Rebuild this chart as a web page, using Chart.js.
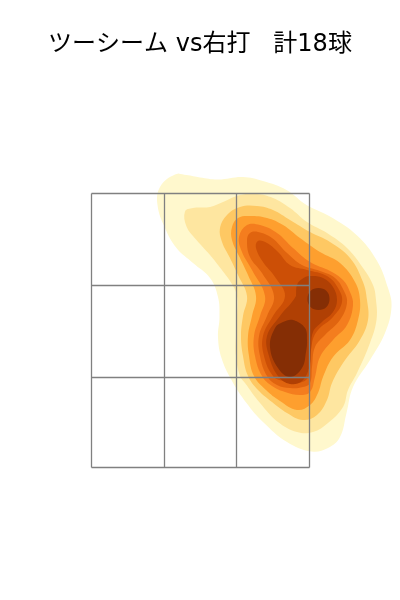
<!DOCTYPE html>
<html>
<head>
<meta charset="utf-8">
<style>
body { margin: 0; background: #fff; }
</style>
<script src="https://cdn.jsdelivr.net/npm/chart.js@4"></script>
</head>
<body>
<canvas id="myChart" width="400" height="600"></canvas>
<script>
var titulo = "ツーシーム vs右打   計18球";

// zone lines, in zone units (0,0 = low corner of the zone)
var zonaX = [0, 73, 145, 218];
var zonaY = [0, 90, 182, 274];

// density bands from the picture, lowest level first
var colores = ["#fff8cd", "#fee6a0", "#fec863", "#fe9f2e", "#f47d1e", "#e0640f", "#cc4f06", "#b04004", "#852e05"];

var nivel1 = [[83.5,293],[68.5,280.5],[66,262.5],[73.5,239.5],[85,219.5],[101.5,204.5],[118.5,189.5],[126.5,170.5],[128,150.5],[126.5,130.5],[130,109.5],[140,87.5],[155,64.5],[171.5,45.5],[195.5,25.5],[220,16],[236.5,19.5],[248.5,30.5],[255,54.5],[261.5,80.5],[278.5,107.5],[293.5,134.5],[300,160.5],[296.5,179.5],[285,207.5],[265,232.5],[238.5,251],[215,262.5],[195,277.5],[171.5,286.5],[151.5,290.5],[126.5,288],[108.5,290],[95,292.5]];
var nivel2 = [[93.5,256],[95,241],[105,227.5],[118.5,212.5],[131.5,196],[141,182.5],[145.5,171.5],[145.5,151.5],[144.5,131.5],[144.5,111.5],[148.5,91.5],[153.5,84.5],[168.5,64.5],[186.5,45.5],[205.5,35.5],[221.5,35.5],[236.5,44.5],[251.5,60.5],[256.5,77.5],[265.5,94.5],[278.5,124.5],[285,147.5],[284.5,167.5],[281.5,182.5],[271.5,199.5],[255.5,219.5],[235.5,234.5],[215.5,245.5],[198.5,259.5],[181.5,269.5],[165.5,273.5],[148.5,272.5],[131.5,265.5],[118.5,260.5],[101.5,259.5]];
var nivel3 = [[128.5,239.5],[130.5,225.5],[138.5,209.5],[146.5,192.5],[155.5,171.5],[151.5,151.5],[149.5,131.5],[151.5,111.5],[156.5,91.5],[166.5,77.5],[180.5,65.5],[195.5,54.5],[211.5,47.5],[225.5,52.5],[235.5,67.5],[240.5,84.5],[251.5,104.5],[268.5,127.5],[276.5,147.5],[275.5,167.5],[271.5,185.5],[258.5,209.5],[238.5,225.5],[218.5,235.5],[198.5,247.5],[181.5,257.5],[165.5,261.5],[148.5,260.5],[135.5,252.5]];
var nivel4 = [[140.5,240.5],[140.5,227.5],[148.5,209.5],[156.5,192.5],[164.5,171.5],[160.5,151.5],[156.5,131.5],[157.5,111.5],[162.5,91.5],[174.5,77.5],[188.5,66.5],[205.5,57.5],[218.5,62.5],[226.5,74.5],[231.5,90.5],[241.5,110.5],[258.5,127.5],[266.5,147.5],[268.5,167.5],[263.5,185.5],[248.5,204.5],[228.5,215.5],[208.5,229.5],[191.5,242.5],[175.5,249.5],[158.5,251.5],[146.5,249.5]];
var nivel5 = [[147.5,230.5],[150.5,215.5],[160.5,197.5],[173.5,171.5],[168.5,151.5],[162.5,131.5],[163.5,111.5],[170.5,91.5],[180.5,81.5],[193.5,75.5],[208.5,72.5],[218.5,75.5],[223.5,90.5],[228.5,110.5],[241.5,127.5],[255.5,142.5],[261.5,162.5],[258.5,175.5],[251.5,187.5],[238.5,196.5],[218.5,205.5],[201.5,219.5],[185.5,234.5],[168.5,242.5],[155.5,242.5]];
var nivel6 = [[155.5,227.5],[158.5,210.5],[170.5,194.5],[182.5,171.5],[175.5,151.5],[167.5,131.5],[168.5,111.5],[175.5,91.5],[185.5,82.5],[198.5,79.5],[211.5,80.5],[218.5,84.5],[220.5,100.5],[223.5,120.5],[233.5,132.5],[248.5,147.5],[255.5,164.5],[252.5,176.5],[243.5,189.5],[228.5,196.5],[210.5,202.5],[195.5,214.5],[180.5,229.5],[166.5,235.5],[158.5,234.5]];
var nivel7 = [[164.5,219.5],[171.5,205.5],[183.5,190.5],[193.5,171.5],[181.5,151.5],[171.5,131.5],[172.5,111.5],[181.5,91.5],[191.5,86.5],[204.5,84.5],[215.5,88.5],[218.5,100.5],[220.5,124.5],[226.5,137.5],[241.5,150.5],[250.5,165.5],[246.5,179.5],[235.5,191.5],[215.5,197.5],[198.5,202.5],[186.5,215.5],[175.5,224.5],[166.5,226.5]];
var nivel8 = [[205.5,182.5],[204.5,171.5],[188.5,151.5],[175.5,131.5],[177.5,111.5],[186.5,91.5],[198.5,83.5],[210.5,86.5],[217.5,99.5],[219.5,117.5],[221.5,135.5],[230.5,145.5],[241.5,155.5],[245.5,167.5],[241.5,180.5],[231.5,189.5],[218.5,191.5],[210.5,188.5]];
var nivel9a = [[201.5,147.5],[213.5,139.5],[215.5,127.5],[214.5,115.5],[210.5,99.5],[198.5,90.5],[186.5,99.5],[178.5,120.5],[183.5,139.5],[191.5,145.5]];
var nivel9b = [[227,179.5],[235,176.5],[238,168.5],[235,160.5],[227,157.5],[219,160.5],[216,168.5],[219,176.5]];

var bandas = [nivel1, nivel2, nivel3, nivel4, nivel5, nivel6, nivel7, nivel8, nivel9a, nivel9b];
var colorBanda = [colores[0], colores[1], colores[2], colores[3], colores[4], colores[5], colores[6], colores[7], colores[8], colores[8]];

function crearGrafico(){
    var datasets = [];

    // the grid goes on top, so lowest order
    zonaX.forEach(function(x){
        datasets.push({
            data: [{x: x, y: zonaY[0]}, {x: x, y: zonaY[3]}],
            showLine: true, pointRadius: 0, borderColor: "#808080", borderWidth: 1.3, order: 0
        });
    });
    zonaY.forEach(function(y){
        datasets.push({
            data: [{x: zonaX[0], y: y}, {x: zonaX[3], y: y}],
            showLine: true, pointRadius: 0, borderColor: "#808080", borderWidth: 1.3, order: 0
        });
    });

    bandas.forEach(function(banda, i){
        // go round with some overlap so the join of the loop stays smooth
        var vuelta = [banda[banda.length - 1]].concat(banda, [banda[0], banda[1]]);
        var puntos = vuelta.map(function(p){ return {x: p[0], y: p[1]}; });
        datasets.push({
            data: puntos,
            showLine: true,
            tension: 0.4,
            pointRadius: 0,
            borderWidth: 0,
            backgroundColor: colorBanda[i],
            fill: "shape",
            order: bandas.length - i
        });
    });

    var ctx = document.getElementById("myChart").getContext("2d");
    new Chart(ctx, {
        type: "scatter",
        data: { datasets: datasets },
        options: {
            responsive: false,
            animation: false,
            layout: { padding: { left: 0, right: 0, top: 0, bottom: 40 } },
            plugins: {
                legend: { display: false },
                tooltip: { enabled: false },
                title: {
                    display: true,
                    text: titulo,
                    color: "#000",
                    font: { family: '"DejaVu Sans", "Noto Sans CJK JP"', size: 24, weight: "normal" },
                    padding: { top: 30, bottom: 1.2 }
                }
            },
            scales: {
                x: { display: false, min: -91.5, max: 308.5 },
                y: { display: false, min: -92.5, max: 407.5 }
            }
        }
    });
}

crearGrafico();
</script>
</body>
</html>
